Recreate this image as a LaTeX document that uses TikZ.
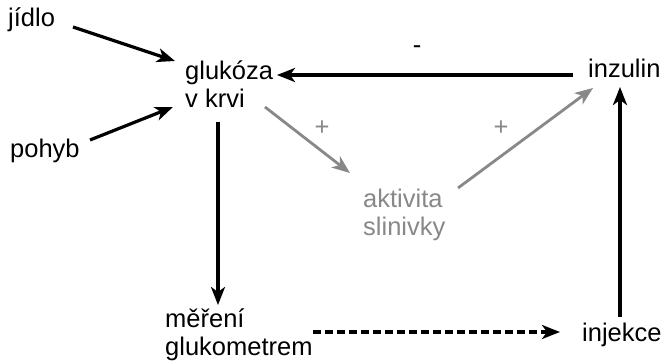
\documentclass[tikz,border=0pt]{standalone}
\usepackage{fontspec}
\setmainfont{Liberation Sans}
\usetikzlibrary{arrows.meta}
\definecolor{grey}{HTML}{888888}
\tikzset{
  lbl/.style={font=\fontsize{25.5}{28}\selectfont, inner sep=0pt, anchor=base west, align=left},
  greylbl/.style={lbl, text=grey},
  arr/.style={line width=3.2pt, -{Stealth[length=18pt,width=14pt,inset=5pt]}},
  greyarr/.style={arr, draw=grey, line width=2.8pt},
}
\begin{document}
\begin{tikzpicture}[%
        x = 1pt, y = -1pt
    ]
      \useasboundingbox (0,0) rectangle (665,364);
      \node[lbl] (jidlo) at (8,27) {jídlo};
      \node[lbl] (pohyb) at (10,157) {pohyb};
      \node[lbl] (glukoza) at (185,107) {glukóza\\v krvi};
      \node[lbl] (inzulin) at (588,77) {inzulin};
      \node[greylbl] (aktivita) at (363,235) {aktivita\\slinivky};
      \node[lbl] (mereni) at (165,355) {měření\\glukometrem};
      \node[lbl] (injekce) at (582,341) {injekce};
      \node[lbl, anchor=center] (minus) at (417,50) {-};
      \node[greylbl, anchor=center] (plusa) at (322,128) {+};
      \node[greylbl, anchor=center] (plusb) at (501,128) {+};
      % connectors
      \draw[arr] ([shift={(65,0)}]jidlo.base west) -- ([shift={(-10,-46)}]glukoza.base west);
      \draw[arr] ([shift={(80,-17)}]pohyb.base west) -- ([shift={(-12,0)}]glukoza.base west);
      \draw[arr] ([shift={(-15,-2)}]inzulin.base west) -- ([shift={(92,-32)}]glukoza.base west);
      \draw[arr] ([shift={(33,15)}]glukoza.base west) -- ([shift={(53,-50)}]mereni.base west);
      \draw[arr, dash pattern=on 8pt off 4pt] ([shift={(148,-23)}]mereni.base west) -- ([shift={(-22,-9)}]injekce.base west);
      \draw[arr] ([shift={(38,-24)}]injekce.base west) -- ([shift={(32,10)}]inzulin.base west);
      \draw[greyarr] ([shift={(80,0)}]glukoza.base west) -- ([shift={(-13,-62)}]aktivita.base west);
      \draw[greyarr] ([shift={(95,-47)}]aktivita.base west) -- ([shift={(5,11)}]inzulin.base west);
    \end{tikzpicture}
\end{document}
